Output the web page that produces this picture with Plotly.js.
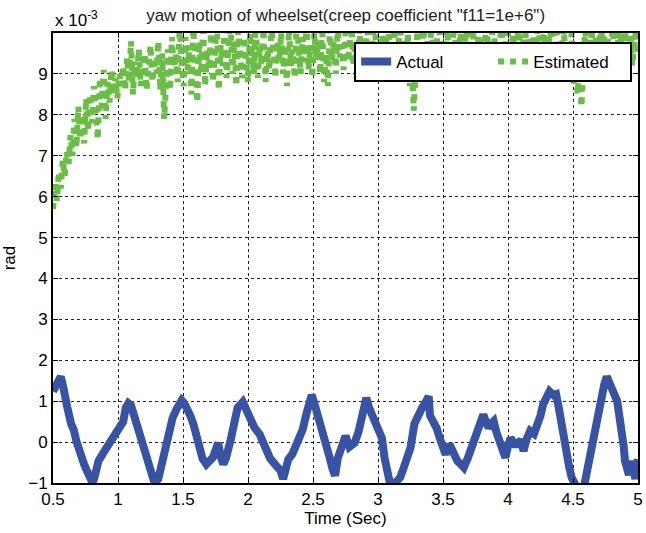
<!DOCTYPE html>
<html>
<head>
<meta charset="utf-8">
<script src="https://cdn.plot.ly/plotly-3.0.1.min.js"></script>
<style>html,body{margin:0;padding:0;background:#fff;}#chart{width:646px;height:533px;}</style>
</head>
<body>
<div id="chart"></div>
<script>
// Values in units of 1e-3 rad (axis shows "x 10^-3")
var actualT = [0.50,0.52,0.54,0.56,0.575,0.59,0.61,0.64,0.66,0.68,0.70,0.72,0.74,0.76,0.78,0.805,0.82,0.85,0.88,0.91,0.94,0.98,1.00,1.02,1.04,1.06,1.08,1.10,1.12,1.14,1.16,1.19,1.22,1.25,1.28,1.31,1.34,1.36,1.38,1.40,1.42,1.45,1.49,1.51,1.53,1.56,1.58,1.61,1.63,1.65,1.68,1.71,1.73,1.75,1.77,1.79,1.81,1.83,1.85,1.87,1.89,1.92,1.96,1.99,2.02,2.05,2.09,2.12,2.15,2.17,2.21,2.25,2.27,2.29,2.31,2.34,2.37,2.40,2.42,2.45,2.49,2.51,2.53,2.56,2.58,2.61,2.63,2.65,2.67,2.69,2.71,2.73,2.75,2.78,2.80,2.82,2.85,2.87,2.89,2.91,2.93,2.96,2.99,3.01,3.03,3.05,3.07,3.09,3.13,3.17,3.19,3.21,3.23,3.25,3.28,3.31,3.34,3.37,3.39,3.40,3.43,3.45,3.48,3.52,3.55,3.58,3.61,3.64,3.66,3.69,3.71,3.74,3.76,3.79,3.81,3.83,3.85,3.87,3.89,3.91,3.94,3.96,3.98,4.00,4.02,4.05,4.07,4.10,4.12,4.14,4.17,4.20,4.22,4.25,4.27,4.30,4.32,4.35,4.37,4.39,4.41,4.43,4.45,4.47,4.49,4.52,4.55,4.575,4.59,4.61,4.63,4.66,4.68,4.70,4.72,4.74,4.76,4.78,4.80,4.82,4.84,4.86,4.87,4.89,4.90,4.92,4.93,4.95,4.97,4.98,4.99,5.00];
var actualY = [1.24,1.35,1.45,1.60,1.40,1.08,0.85,0.44,0.30,0.02,-0.20,-0.46,-0.55,-0.70,-0.80,-1.00,-0.85,-0.46,-0.30,-0.14,0.00,0.23,0.30,0.39,0.50,0.84,0.95,0.90,0.70,0.44,0.20,-0.14,-0.45,-0.70,-0.99,-0.90,-0.46,-0.10,0.19,0.40,0.59,0.80,1.02,0.95,0.84,0.62,0.44,0.05,-0.22,-0.40,-0.54,-0.45,-0.38,-0.20,-0.02,-0.35,-0.54,-0.40,-0.22,0.10,0.40,0.84,0.98,0.75,0.47,0.35,0.19,-0.05,-0.25,-0.40,-0.55,-0.70,-0.90,-0.65,-0.42,-0.30,-0.10,0.10,0.30,0.70,1.15,0.95,0.75,0.45,0.25,-0.10,-0.40,-0.65,-0.82,-0.40,-0.22,0.05,0.15,-0.12,-0.05,-0.02,0.25,0.51,0.80,1.08,0.85,0.65,0.44,0.30,0.10,-0.38,-0.70,-0.98,-1.00,-0.87,-0.70,-0.54,-0.35,-0.14,0.45,0.70,0.84,1.00,1.12,0.65,0.50,0.35,0.05,-0.30,-0.05,-0.30,-0.46,-0.55,-0.62,-0.40,-0.22,0.05,0.27,0.45,0.67,0.50,0.35,0.45,0.51,0.25,-0.05,-0.20,-0.38,-0.10,0.10,-0.05,-0.05,0.05,-0.22,0.05,0.27,0.20,0.35,0.65,0.92,1.10,1.24,1.15,1.17,0.85,0.44,0.05,-0.30,-0.60,-0.87,-1.05,-1.40,-1.30,-1.00,-0.65,-0.38,0.15,0.51,0.85,1.17,1.40,1.60,1.40,1.24,1.15,1.00,0.65,0.35,-0.10,-0.46,-0.65,-0.80,-0.46,-0.75,-0.90,-0.60,-0.42];

var estStart = 0.5, estStep = 0.015;
var estY = [
5.7,6.3,5.9,6.6,6.2,6.9,6.5,7.1,6.8,7.5,
7.0,7.9,7.2,8.2,7.4,8.0,7.3,8.4,7.6,8.5,
7.8,8.7,8.0,7.4,8.9,8.2,9.1,7.9,8.8,8.3,
9.1,8.5,8.9,8.4,9.0,8.7,9.2,8.6,9.4,8.8,
9.8,8.5,9.3,8.9,9.6,8.7,9.1,9.5,8.6,9.3,
9.7,8.8,9.4,9.0,9.8,8.6,9.5,7.9,9.2,9.6,
8.6,9.9,9.0,9.5,8.8,10.2,9.3,8.7,9.9,9.1,
9.7,8.5,10.1,9.2,8.3,9.8,9.0,10.2,8.7,9.6,
9.1,10.0,8.8,9.5,10.3,8.6,9.7,9.2,10.1,8.9,
9.6,10.4,9.0,9.8,8.7,10.2,9.4,8.9,9.9,9.3,
8.8,10.0,9.5,9.0,10.3,8.9,9.7,9.2,10.1,8.8,
9.6,9.1,10.2,9.4,8.9,9.8,9.3,10.0,9.0,9.7,
8.7,10.1,9.2,9.6,8.9,10.3,9.4,9.0,9.9,9.3,
10.2,9.1,9.7,8.9,10.0,9.4,9.8,9.0,10.3,8.8,
9.5,8.7,10.1,9.3,9.8,9.0,10.2,9.4,9.7,9.1,
10.0,9.3,9.6,10.3,9.2,9.8,9.0,10.1,9.5,9.9,
9.2,10.2,9.6,9.0,9.9,10.4,9.3,9.7,9.1,10.0,
9.4,9.8,10.3,9.2,9.6,10.1,9.0,9.7,10.2,9.3,
9.8,9.1,10.0,8.7,9.4,8.1,9.6,10.2,8.9,9.5,
10.1,9.3,9.8,9.0,10.3,9.5,9.2,9.9,10.2,9.4,
9.7,9.0,10.1,9.5,8.9,9.8,10.3,9.2,9.6,10.0,
9.3,9.9,10.2,9.1,9.7,10.4,9.4,9.0,9.8,10.1,
9.5,9.1,10.3,9.6,9.2,9.9,10.2,9.3,9.0,9.8,
10.1,9.4,9.7,10.3,9.2,9.6,10.0,9.3,9.8,10.2,
9.1,9.6,10.3,9.4,9.9,9.2,10.1,9.5,9.7,10.4,
9.3,9.8,10.0,9.1,9.6,10.2,9.4,9.9,10.3,9.5,
9.0,9.7,10.1,9.2,8.9,9.6,10.0,8.7,9.3,8.5,
9.1,8.2,9.4,10.2,9.0,9.7,10.3,9.3,9.8,10.1,
9.4,10.2,9.6,9.9,10.4,9.3,9.8,10.1,9.5,10.3,
9.7,10.0,9.4,10.2,9.6,9.9,10.3,9.2,9.8,10.1,9.5];
var estT = estY.map(function(_, i){ return +(estStart + i*estStep).toFixed(4); });

var xTicks = [0.5,1,1.5,2,2.5,3,3.5,4,4.5,5];
var xTickText = ['0.5','1','1.5','2','2.5','3','3.5','4','4.5','5'];
var yTicks = [-1,0,1,2,3,4,5,6,7,8,9];

var FONT = 'Liberation Sans, Arial, sans-serif';

var traces = [
  {x: actualT, y: actualY, type: 'scatter', mode: 'lines', name: 'Actual',
   line: {color: '#3953a4', width: 8}},
  {x: estT, y: estY, type: 'scatter', mode: 'lines', name: 'Estimated',
   line: {color: '#6abd45', width: 6, dash: 'dot'}}
];

var axisCommon = {
  showline: true, linecolor: '#000', linewidth: 2, mirror: 'ticks',
  ticks: 'inside', ticklen: 5, tickwidth: 1, tickcolor: '#000',
  showgrid: true, gridcolor: '#222', gridwidth: 1, griddash: 'dot',
  zeroline: false, tickfont: {family: FONT, size: 17, color: '#000'}
};

var layout = {
  width: 646, height: 533,
  margin: {l: 53, r: 8, t: 33, b: 50},
  paper_bgcolor: '#fff', plot_bgcolor: '#fff',
  font: {family: FONT, color: '#000', size: 17},
  title: {text: 'yaw motion of wheelset(creep coefficient "f11=1e+6")',
          font: {family: FONT, size: 17, color: '#222'},
          x: 0.535, xanchor: 'center', y: 0.972, yanchor: 'middle'},
  xaxis: Object.assign({}, axisCommon, {
    range: [0.5, 5], tickvals: xTicks, ticktext: xTickText,
    title: {text: 'Time (Sec)', font: {family: FONT, size: 17, color: '#000'}, standoff: 4}
  }),
  yaxis: Object.assign({}, axisCommon, {
    range: [-1, 10], tickvals: yTicks,
    title: {text: 'rad', font: {family: FONT, size: 17, color: '#000'}, standoff: 10}
  }),
  showlegend: true,
  legend: {orientation: 'h', x: 0.99, xanchor: 'right', y: 0.98, yanchor: 'top',
           bgcolor: '#fff', bordercolor: '#000', borderwidth: 2,
           entrywidth: 92, entrywidthmode: 'pixels',
           font: {family: FONT, size: 17, color: '#000'}},
  annotations: [{
    xref: 'paper', yref: 'paper', x: 0, y: 1, xanchor: 'left', yanchor: 'bottom',
    text: 'x 10<sup>-3</sup>', showarrow: false, yshift: 1,
    font: {family: FONT, size: 17, color: '#000'}
  }]
};

Plotly.newPlot('chart', traces, layout, {displayModeBar: false, staticPlot: true});
</script>
</body>
</html>
